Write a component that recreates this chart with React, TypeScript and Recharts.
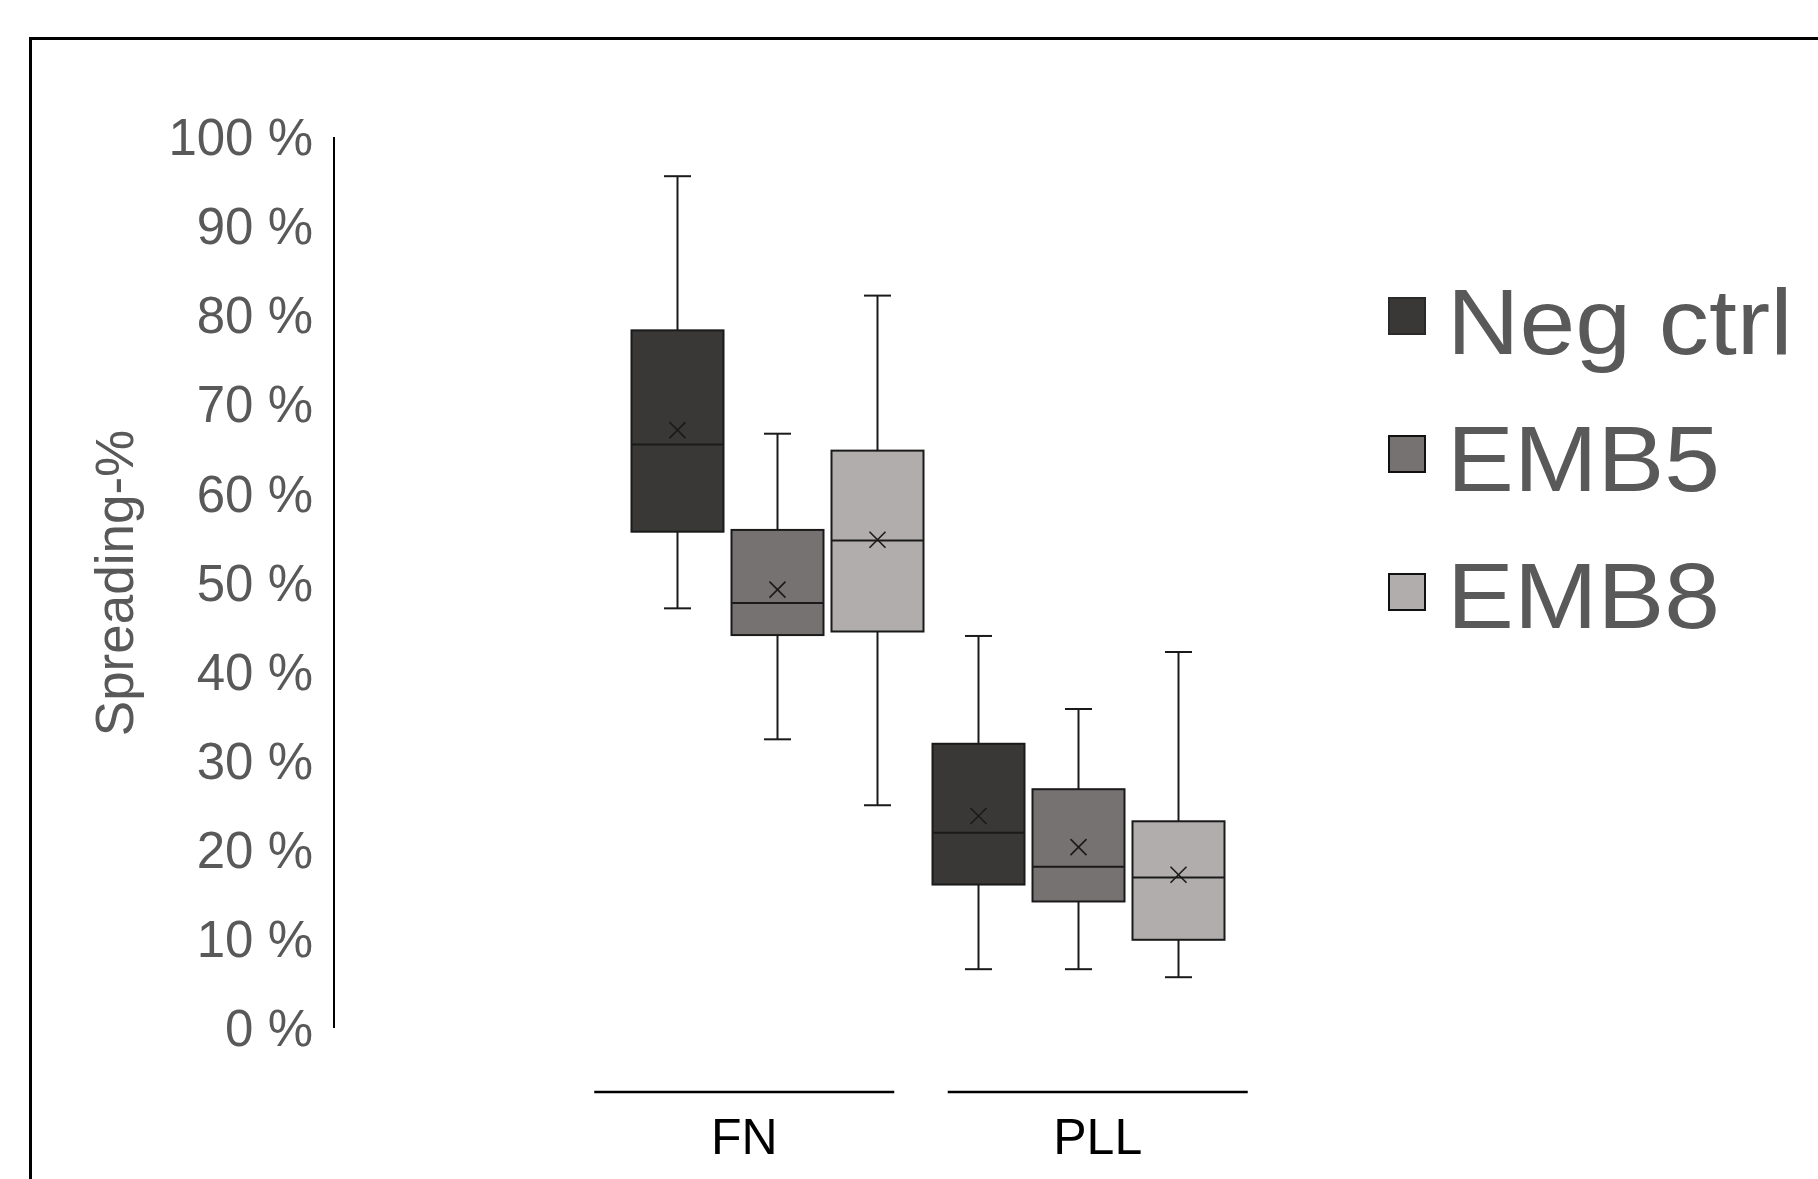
import React from 'react';
import { ComposedChart, Bar, XAxis, YAxis } from 'recharts';

const categories = ['FN', 'PLL'];
const seriesNames = ['Neg ctrl', 'EMB5', 'EMB8'];
const seriesColors = ['#393837', '#767271', '#b0adac'];

// spreading-% per series, one value per category (FN, PLL)
const whiskerMin = [[47.1, 6.6], [32.4, 6.6], [25.0, 5.7]];
const quartile1 = [[55.7, 16.1], [44.1, 14.2], [44.5, 9.9]];
const medians = [[65.5, 21.9], [47.7, 18.1], [54.7, 16.9]];
const quartile3 = [[78.3, 31.9], [55.9, 26.8], [64.8, 23.2]];
const whiskerMax = [[95.6, 44.0], [66.7, 35.8], [82.2, 42.2]];
const means = [[67.1, 23.8], [49.2, 20.3], [54.8, 17.2]];

const yTicks = [0, 10, 20, 30, 40, 50, 60, 70, 80, 90, 100];

const data = categories.map((category, c) => ({
  category,
  boxes: seriesNames.map((_, s) => ({
    min: whiskerMin[s][c],
    q1: quartile1[s][c],
    median: medians[s][c],
    q3: quartile3[s][c],
    max: whiskerMax[s][c],
    mean: means[s][c],
  })),
}));

const LINE = '#1a1a1a';
const FONT = '"Liberation Sans", Arial, Helvetica, sans-serif';

function BoxShape(props: any) {
  const { x, y, width, height, payload, seriesIndex, fill } = props;
  const b = payload.boxes[seriesIndex];
  const top = Math.min(y, y + height);
  const bottom = Math.max(y, y + height);
  // bar spans [min, max]; map other stats onto the same pixel range
  const py = (v: number) => bottom - ((v - b.min) / (b.max - b.min)) * (bottom - top);
  const cx = x + width / 2;
  const cap = 13.5;
  const m = 8;
  const my = py(b.mean);
  return (
    <g>
      <line x1={cx} x2={cx} y1={py(b.max)} y2={py(b.q3)} stroke={LINE} strokeWidth={2} />
      <line x1={cx} x2={cx} y1={py(b.q1)} y2={py(b.min)} stroke={LINE} strokeWidth={2} />
      <line x1={cx - cap} x2={cx + cap} y1={py(b.max)} y2={py(b.max)} stroke={LINE} strokeWidth={2} />
      <line x1={cx - cap} x2={cx + cap} y1={py(b.min)} y2={py(b.min)} stroke={LINE} strokeWidth={2} />
      <rect x={x} y={py(b.q3)} width={width} height={py(b.q1) - py(b.q3)} fill={fill} stroke={LINE} strokeWidth={2} />
      <line x1={x} x2={x + width} y1={py(b.median)} y2={py(b.median)} stroke={LINE} strokeWidth={2} />
      <line x1={cx - m} x2={cx + m} y1={my - m} y2={my + m} stroke={LINE} strokeWidth={1.6} />
      <line x1={cx - m} x2={cx + m} y1={my + m} y2={my - m} stroke={LINE} strokeWidth={1.6} />
    </g>
  );
}

function CategoryTick(props: any) {
  const { x, y, payload } = props;
  return (
    <g>
      <line x1={x - 150} x2={x + 150} y1={y + 64} y2={y + 64} stroke="#000" strokeWidth={2.5} />
      <text x={x} y={y + 126} textAnchor="middle" fontSize={50} fill="#000" fontFamily={FONT}>
        {payload.value}
      </text>
    </g>
  );
}

export default function App() {
  return (
    <div
      style={{
        position: 'absolute',
        left: 0,
        top: 0,
        width: 1818,
        height: 1179,
        overflow: 'hidden',
        background: '#fff',
        fontFamily: FONT,
      }}
    >
      <div
        style={{
          position: 'absolute',
          left: 29,
          top: 37,
          width: 2000,
          height: 2000,
          borderLeft: '3px solid #000',
          borderTop: '3px solid #000',
        }}
      />
      <div style={{ position: 'absolute', left: 0, top: 0 }}>
        <ComposedChart
          width={1818}
          height={1179}
          data={data}
          margin={{ top: 137, right: 518, bottom: 11, left: 0 }}
          barGap={8}
        >
          <XAxis xAxisId="bars" dataKey="category" hide height={0} padding={{ left: 292.5, right: 71.5 }} />
          <XAxis
            xAxisId="labels"
            dataKey="category"
            height={140}
            padding={{ left: 233.5, right: 25.5 }}
            axisLine={false}
            tickLine={false}
            tickSize={0}
            tickMargin={0}
            interval={0}
            tick={(p: any) => <CategoryTick {...p} />}
          />
          <YAxis
            width={334}
            domain={[0, 100]}
            ticks={yTicks}
            interval={0}
            axisLine={{ stroke: '#000', strokeWidth: 2 }}
            tickLine={false}
            tickSize={0}
            tickMargin={21}
            tick={{ fill: '#595959', fontSize: 51, fontFamily: FONT }}
            tickFormatter={(v: number) => `${v} %`}
          />
          {seriesNames.map((name, i) => (
            <Bar
              key={name}
              name={name}
              xAxisId="bars"
              dataKey={(row: any) => [row.boxes[i].min, row.boxes[i].max]}
              fill={seriesColors[i]}
              barSize={92}
              isAnimationActive={false}
              shape={(p: any) => <BoxShape {...p} seriesIndex={i} fill={seriesColors[i]} />}
            />
          ))}
        </ComposedChart>
      </div>
      <svg
        width={1818}
        height={1179}
        style={{ position: 'absolute', left: 0, top: 0, pointerEvents: 'none' }}
      >
        <text
          transform="translate(133 583) rotate(-90)"
          textAnchor="middle"
          fontSize={53}
          fill="#595959"
          fontFamily={FONT}
        >
          Spreading-%
        </text>
        {seriesNames.map((name, i) => (
          <g key={name}>
            <rect
              x={1389}
              y={298 + i * 138}
              width={36}
              height={36}
              fill={seriesColors[i]}
              stroke={i === 0 ? '#2a2a2a' : '#111'}
              strokeWidth={2}
            />
            <text
              transform={`translate(1447 ${354 + i * 137}) scale(1.09 1)`}
              fontSize={92}
              fill="#595959"
              fontFamily={FONT}
            >
              {name}
            </text>
          </g>
        ))}
      </svg>
    </div>
  );
}
